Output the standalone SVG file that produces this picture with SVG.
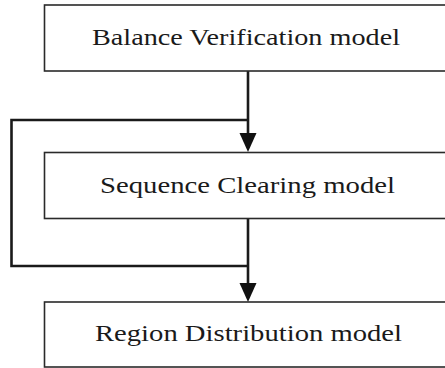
<svg xmlns="http://www.w3.org/2000/svg" width="445" height="368" viewBox="0 0 445 368">
  <defs>
    <style>
      .box { fill: #ffffff; stroke: #2a2a2a; stroke-width: 1.6; }
      .label { font-family: "Liberation Serif", "Times New Roman", serif; font-size: 23.5px; fill: #1a1a1a; text-anchor: middle; }
      .wire { fill: none; stroke: #1a1a1a; stroke-width: 2.6; stroke-linejoin: miter; }
      .head { fill: #111111; }
    </style>
  </defs>
  <rect width="445" height="368" fill="#ffffff"/>

  <!-- connectors -->
  <g id="connectors">
    <polyline class="wire" points="248,71 248,134"/>
    <polyline class="wire" points="248,120 11.5,120 11.5,266 248,266"/>
    <polyline class="wire" points="248,219 248,283"/>
    <polygon class="head" points="239.5,133 256.5,133 248,152"/>
    <polygon class="head" points="239.5,283 256.5,283 248,302"/>
  </g>

  <!-- nodes -->
  <g id="balance-verification">
    <rect class="box" x="44.5" y="5" width="420" height="66"/>
    <text class="label" x="246" y="44.5" textLength="308" lengthAdjust="spacingAndGlyphs">Balance Verification model</text>
  </g>
  <g id="sequence-clearing">
    <rect class="box" x="44.5" y="152.5" width="420" height="66"/>
    <text class="label" x="247.5" y="192.5" textLength="295" lengthAdjust="spacingAndGlyphs">Sequence Clearing model</text>
  </g>
  <g id="region-distribution">
    <rect class="box" x="44.5" y="302" width="420" height="65"/>
    <text class="label" x="248.5" y="340.5" textLength="307" lengthAdjust="spacingAndGlyphs">Region Distribution model</text>
  </g>
</svg>
